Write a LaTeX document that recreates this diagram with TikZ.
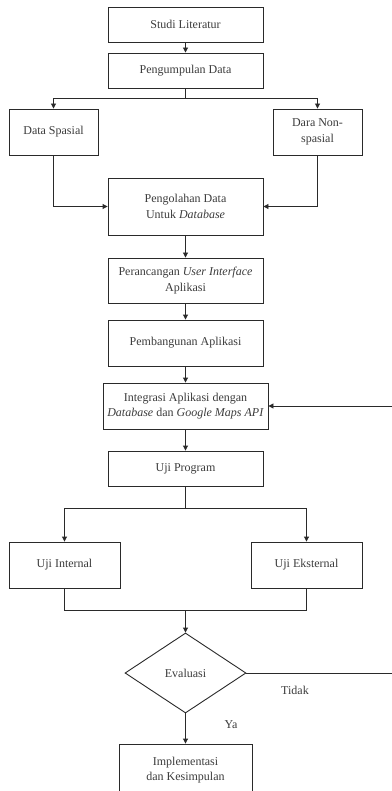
\documentclass[tikz,border=0pt]{standalone}
\usepackage{fontspec}
\setmainfont{Liberation Serif}
\usetikzlibrary{shapes.geometric,arrows.meta}
\definecolor{linec}{HTML}{2A2A2A}
\definecolor{txtc}{HTML}{3C3C3C}
\begin{document}
\begin{tikzpicture}[x=1pt,y=-1pt,
  box/.style={draw=linec, line width=0.9pt, fill=white, text=txtc, align=center, inner sep=0pt,
    font=\fontsize{12}{15.5}\selectfont},
  dec/.style={diamond, draw=linec, line width=0.9pt, fill=white, text=txtc, inner sep=0pt, aspect=1.5,
    font=\fontsize{12}{15.5}\selectfont},
  lbl/.style={text=txtc, inner sep=0pt, font=\fontsize{12}{15.5}\selectfont},
  ln/.style={draw=linec, line width=0.9pt},
  arr/.style={draw=linec, line width=0.9pt, -{Triangle[length=5pt,width=5pt]}}]
\useasboundingbox (0,0) rectangle (391,791);
\fill[white] (0,0) rectangle (391,791);

\node[box, minimum width=155pt, minimum height=35pt] (lit) at (185.5,24.5) {Studi Literatur};
\node[box, minimum width=155pt, minimum height=35pt] (kumpul) at (185.5,70.5) {Pengumpulan Data};
\node[box, minimum width=89pt, minimum height=46pt] (spasial) at (53.5,132) {Data Spasial};
\node[box, minimum width=89pt, minimum height=46pt] (nonsp) at (317.5,132) {Dara Non-\\spasial};
\node[box, minimum width=155pt, minimum height=57pt] (olah) at (185.5,206.5) {Pengolahan Data\\Untuk \textit{Database}};
\node[box, minimum width=155pt, minimum height=45pt] (ui) at (185.5,280.5) {Perancangan \textit{User Interface}\\Aplikasi};
\node[box, minimum width=155pt, minimum height=46pt] (bangun) at (185.5,343) {Pembangunan Aplikasi};
\node[box, minimum width=165pt, minimum height=46pt] (integ) at (185.5,406) {Integrasi Aplikasi dengan\\\textit{Database} dan \textit{Google Maps API}};
\node[box, minimum width=155pt, minimum height=35pt] (uji) at (185.5,468.5) {Uji Program};
\node[box, minimum width=111pt, minimum height=46pt] (internal) at (64.5,565) {Uji Internal};
\node[box, minimum width=111pt, minimum height=46pt] (eksternal) at (306.5,565) {Uji Eksternal};
\node[dec, minimum width=121pt, minimum height=80pt] (eval) at (185.5,673) {Evaluasi};
\node[box, minimum width=133pt, minimum height=52pt] (impl) at (185.5,770) {Implementasi\\dan Kesimpulan};

\node[lbl] (tidak) at (295,690) {Tidak};
\node[lbl] (ya) at (231,725) {Ya};

\coordinate (j1) at (185.5,98);
\coordinate (j2) at (185.5,508);
\coordinate (j3) at (185.5,610);
\coordinate (fbA) at (393,673);
\coordinate (fbB) at (393,406);

\draw[arr] (lit) -- (kumpul);
\draw[ln] (kumpul.south) -- (j1);
\draw[arr] (j1) -| (spasial.north);
\draw[arr] (j1) -| (nonsp.north);
\draw[arr] (spasial.south) |- (olah.west);
\draw[arr] (nonsp.south) |- (olah.east);
\draw[arr] (olah) -- (ui);
\draw[arr] (ui) -- (bangun);
\draw[arr] (bangun) -- (integ);
\draw[arr] (integ) -- (uji);
\draw[ln] (uji.south) -- (j2);
\draw[arr] (j2) -| (internal.north);
\draw[arr] (j2) -| (eksternal.north);
\draw[ln] (internal.south) |- (j3);
\draw[ln] (eksternal.south) |- (j3);
\draw[arr] (j3) -- (eval.north);
\draw[arr] (eval.south) -- (impl.north);
\draw[arr] (eval.east) -- (fbA) -- (fbB) -- (integ.east);
\end{tikzpicture}
\end{document}
